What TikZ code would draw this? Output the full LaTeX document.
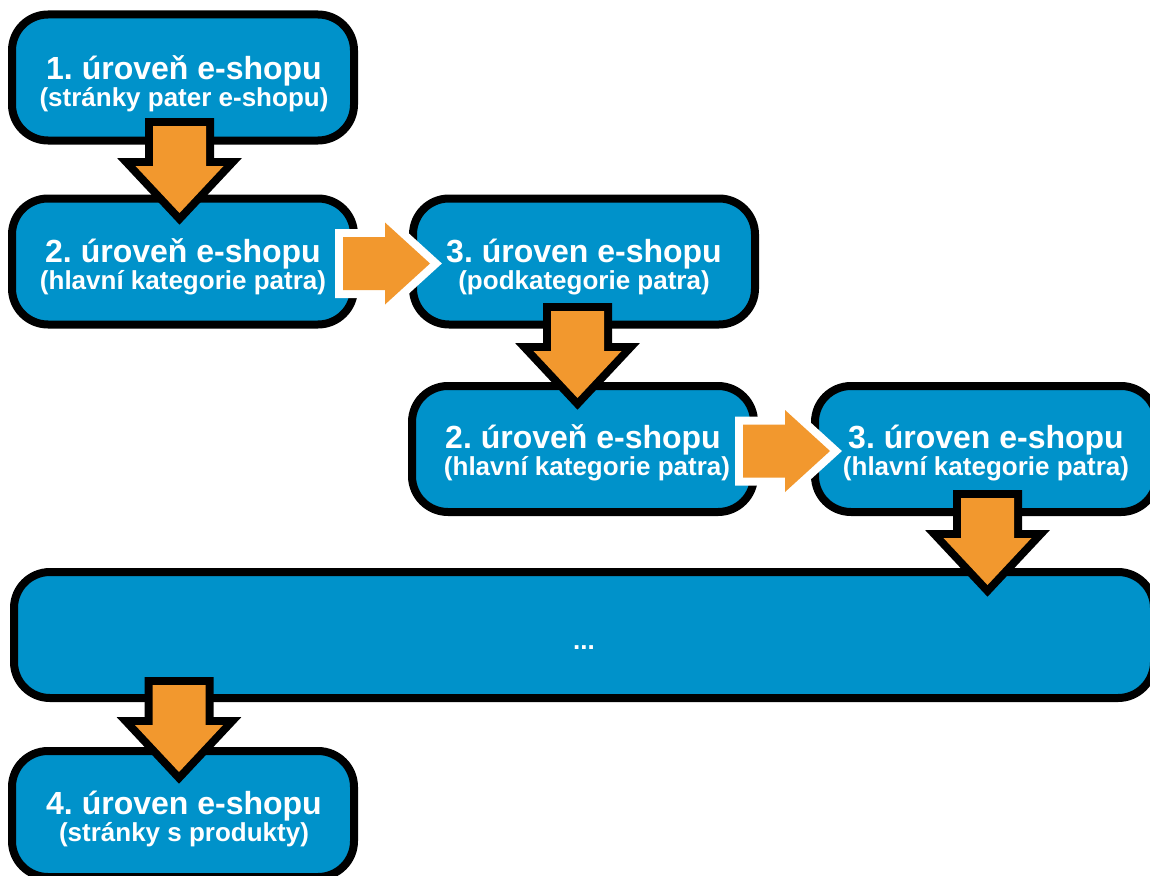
\documentclass[tikz,border=0pt]{standalone}
\usepackage{fontspec}
\setmainfont{Liberation Sans}
\frenchspacing
\definecolor{boxblue}{RGB}{0,146,202}
\definecolor{arroworange}{RGB}{242,152,46}
\begin{document}
\begin{tikzpicture}[x=1pt,y=-1pt,
  lvlbox/.style={draw=black, line width=8pt, fill=boxblue, rounded corners=36pt,
    minimum width=342pt, minimum height=126pt, inner sep=0pt, outer sep=0pt},
  widebox/.style={lvlbox, minimum width=1140pt},
  titletxt/.style={anchor=base, inner sep=0pt, text=white, font=\fontsize{32}{38}\selectfont\bfseries\frenchspacing},
  subtxt/.style={anchor=base, inner sep=0pt, text=white, font=\fontsize{26}{31}\selectfont\bfseries\frenchspacing},
  darrow/.pic={
    \draw[black, line width=16pt, line join=miter]
      (-26.5,8) -- (26.5,8) -- (26.5,48) -- (44,48) -- (0,95) -- (-44,48) -- (-26.5,48) -- cycle;
    \fill[arroworange]
      (-26.5,8) -- (26.5,8) -- (26.5,48) -- (44,48) -- (0,95) -- (-44,48) -- (-26.5,48) -- cycle;
  },
  rarrow/.pic={
    \draw[white, line width=16pt, line join=miter]
      (0,-26.5) -- (42,-26.5) -- (42,-41) -- (87,0) -- (42,41) -- (42,26.5) -- (0,26.5) -- cycle;
    \fill[arroworange]
      (0,-26.5) -- (42,-26.5) -- (42,-41) -- (87,0) -- (42,41) -- (42,26.5) -- (0,26.5) -- cycle;
  }
]
\useasboundingbox (0,0) rectangle (1150,875);
\clip (0,0) rectangle (1150,875);

% boxes
\node[lvlbox] (b1) at (183,77.5) {};
\node[lvlbox] (b2) at (183,261.5) {};
\node[lvlbox] (b3) at (584,261.5) {};
\node[lvlbox] (b4) at (583,449) {};
\node[lvlbox] (b5) at (986,449) {};
\node[widebox] (b6) at (584,635) {};
\node[lvlbox] (b7) at (183,814) {};

% arrows
\pic (a1) at (179.5,118) {darrow};
\pic (a2) at (577.5,303) {darrow};
\pic (a3) at (987.5,490) {darrow};
\pic (a4) at (179,677) {darrow};
\pic (r1) at (343,263.5) {rarrow};
\pic (r2) at (743,451) {rarrow};

% texts
\node[titletxt] (t1a) at (184,79) {1. úroveň e-shopu};
\node[subtxt]   (t1b) at (184,106) {(stránky pater e-shopu)};
\node[titletxt] (t2a) at (183,262) {2. úroveň e-shopu};
\node[subtxt]   (t2b) at (183,289) {(hlavní kategorie patra)};
\node[titletxt] (t3a) at (584,262) {3. úroven e-shopu};
\node[subtxt]   (t3b) at (584,289) {(podkategorie patra)};
\node[titletxt] (t4a) at (583,448) {2. úroveň e-shopu};
\node[subtxt]   (t4b) at (587,475.5) {(hlavní kategorie patra)};
\node[titletxt] (t5a) at (986,448) {3. úroven e-shopu};
\node[subtxt]   (t5b) at (986,475.5) {(hlavní kategorie patra)};
\node[subtxt]   (t6)  at (584,649) {...};
\node[titletxt] (t7a) at (184,814) {4. úroven e-shopu};
\node[subtxt]   (t7b) at (184,841) {(stránky s produkty)};
\end{tikzpicture}
\end{document}
